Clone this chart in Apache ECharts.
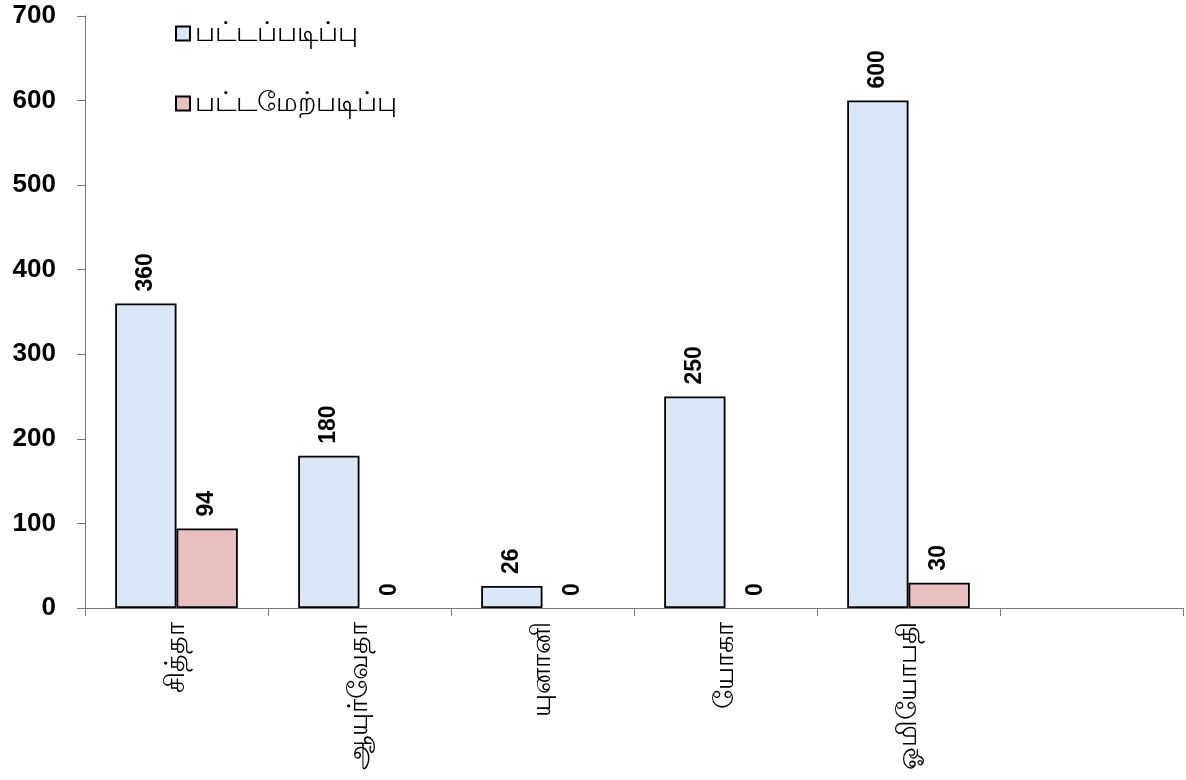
<!DOCTYPE html>
<html><head><meta charset="utf-8">
<script src="https://cdn.jsdelivr.net/npm/echarts@6/dist/echarts.min.js"></script>
<style>html,body{margin:0;padding:0;background:#fff}#c{width:1186px;height:780px}</style>
</head><body><div id="c"></div>
<script>
var categories = ['சித்தா', 'ஆயுர்வேதா', 'யுனானி', 'யோகா', 'ஓமியோபதி', ''];
var seriesNames = ['பட்டப்படிப்பு', 'பட்டமேற்படிப்பு'];
var ugValues = [360, 180, 26, 250, 600, null];
var pgValues = [94, 0, 0, 0, 30, null];
var yTicks = [0, 100, 200, 300, 400, 500, 600, 700];

var FONT = '"Liberation Sans", Arial, "Noto Sans", sans-serif';
function toData(arr) {
  return arr.map(function (v) {
    return v === 0 ? { value: v, itemStyle: { borderWidth: 0, color: 'rgba(0,0,0,0)' } } : v;
  });
}
var chart = echarts.init(document.getElementById('c'));
var valueLabel = {
  show: true, position: 'top', rotate: 90, align: 'left', verticalAlign: 'middle',
  distance: 12, fontSize: 23, fontWeight: 'bold', color: '#000', fontFamily: FONT
};
chart.setOption({
  animation: false,
  backgroundColor: '#fff',
  grid: { left: 85, right: 3, top: 16, bottom: 172, containLabel: false },
  legend: {
    left: 170, top: 15, orient: 'vertical', itemGap: 43, itemWidth: 14, itemHeight: 14,
    icon: 'rect',
    itemStyle: { borderColor: '#000', borderWidth: 2 },
    textStyle: { fontSize: 27, color: '#000', fontFamily: FONT },
    data: seriesNames
  },
  xAxis: {
    type: 'category', data: categories,
    axisLine: { lineStyle: { color: '#777', width: 1 } },
    axisTick: { show: true, length: 8, lineStyle: { color: '#777' } },
    axisLabel: { rotate: 90, fontSize: 27, color: '#000', margin: 14, fontFamily: FONT, interval: 0 }
  },
  yAxis: {
    type: 'value', min: 0, max: 700, interval: 100,
    splitLine: { show: false },
    axisLine: { show: true, lineStyle: { color: '#777', width: 1 } },
    axisTick: { show: true, length: 8, lineStyle: { color: '#777' } },
    axisLabel: { fontSize: 26, fontWeight: 'bold', color: '#000', margin: 29, fontFamily: FONT,
      formatter: function (v) { return yTicks.indexOf(v) >= 0 ? String(v) : ''; } }
  },
  series: [
    { name: seriesNames[0], type: 'bar', data: toData(ugValues), barGap: '0%', barCategoryGap: '33%',
      itemStyle: { color: '#d9e7f7', borderColor: '#000', borderWidth: 1.8 },
      label: valueLabel },
    { name: seriesNames[1], type: 'bar', data: toData(pgValues),
      itemStyle: { color: '#e8c0c0', borderColor: '#000', borderWidth: 1.8 },
      label: valueLabel }
  ]
});
</script></body></html>
